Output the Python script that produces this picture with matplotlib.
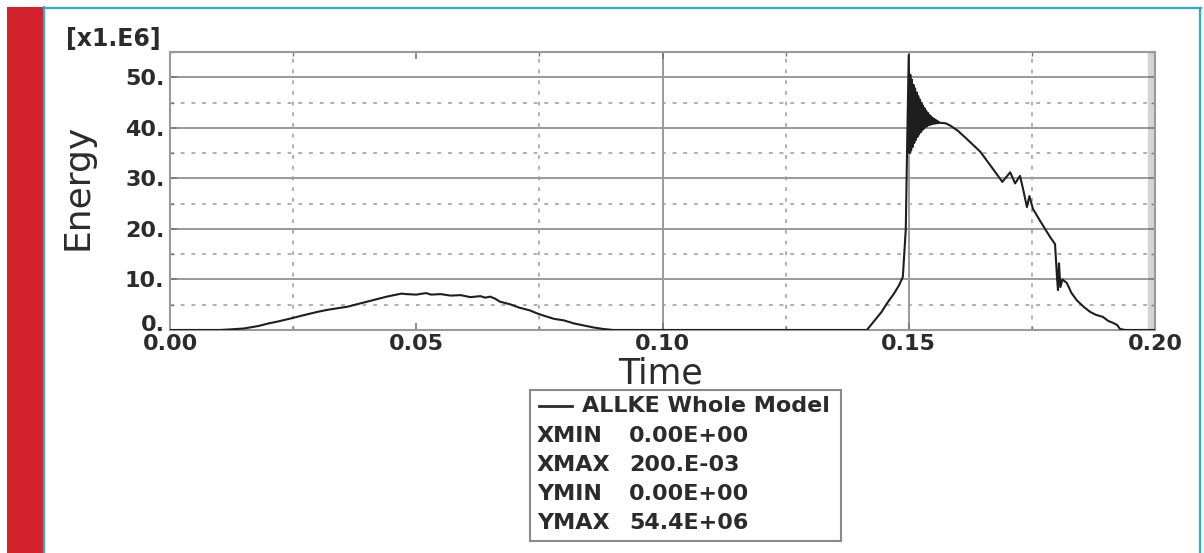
import matplotlib
matplotlib.use("Agg")
import matplotlib.pyplot as plt
from matplotlib.patches import Rectangle
from matplotlib.lines import Line2D
from matplotlib.ticker import MultipleLocator, FixedLocator
from matplotlib.transforms import ScaledTranslation

# ALLKE history (time in s, kinetic energy in units of 1e6)
time_s = [
    0.000, 0.010, 0.012, 0.015, 0.018, 0.020, 0.022, 0.025, 0.027, 0.030,
    0.032, 0.034, 0.036, 0.038, 0.040, 0.042, 0.044, 0.046, 0.047, 0.048,
    0.050, 0.052, 0.053, 0.055, 0.057, 0.059, 0.061, 0.063, 0.064, 0.065,
    0.066, 0.067, 0.069, 0.071, 0.073, 0.0745, 0.076, 0.078, 0.080, 0.082,
    0.084, 0.086, 0.088, 0.090, 0.1415, 0.1430, 0.1445, 0.1456, 0.1470,
    0.1480, 0.1488, 0.1494, 0.1497,
    0.15000, 0.15016, 0.15032, 0.15048, 0.15064, 0.15080, 0.15096, 0.15112,
    0.15128, 0.15144, 0.15160, 0.15176, 0.15192, 0.15208, 0.15224, 0.15240,
    0.15256, 0.15272, 0.15288, 0.15304, 0.15320, 0.15336, 0.15352, 0.15368,
    0.15384, 0.15400, 0.15416, 0.15432, 0.15448, 0.15464, 0.15480, 0.15496,
    0.15512, 0.15528, 0.15544, 0.15560, 0.15576, 0.15592, 0.15608, 0.15624,
    0.1575, 0.1585, 0.1600, 0.1620, 0.1645, 0.1670, 0.1690, 0.1706,
    0.1716, 0.1726, 0.1733, 0.1740, 0.1745, 0.1752, 0.1766, 0.1778, 0.1787,
    0.1797, 0.1801, 0.1803, 0.1805, 0.1808, 0.1812, 0.1821, 0.1830, 0.1841,
    0.1855, 0.1868, 0.1880, 0.1894, 0.1905, 0.1915, 0.1923, 0.1929, 0.1940,
    0.2000,
]
energy_e6 = [
    0.0, 0.0, 0.1, 0.3, 0.8, 1.3, 1.7, 2.4, 2.9, 3.6,
    4.0, 4.3, 4.6, 5.1, 5.6, 6.1, 6.6, 7.0, 7.2, 7.1,
    7.0, 7.3, 7.0, 7.1, 6.8, 6.9, 6.5, 6.7, 6.4, 6.6,
    6.2, 5.6, 5.1, 4.4, 3.9, 3.3, 2.8, 2.2, 1.9, 1.3,
    0.9, 0.5, 0.2, 0.0, 0.0, 1.8, 3.6, 5.3, 7.2,
    8.8, 10.5, 20.0, 38.0,
    54.4, 35.0, 50.5, 35.5, 49.5, 36.2, 48.5, 37.0,
    47.8, 37.6, 47.0, 38.2, 46.3, 38.7, 45.6, 39.1,
    45.0, 39.5, 44.4, 39.8, 43.9, 40.1, 43.4, 40.3,
    43.0, 40.5, 42.6, 40.6, 42.3, 40.7, 42.0, 40.8,
    41.8, 40.8, 41.6, 40.9, 41.4, 40.9, 41.2, 41.0,
    40.9, 40.4, 39.4, 37.6, 35.3, 32.0, 29.3, 31.2,
    29.0, 30.5, 27.5, 24.3, 26.5, 24.0, 21.7, 19.8, 18.4,
    17.0, 10.5, 7.9, 13.2, 8.5, 10.0, 9.3, 7.4, 5.9,
    4.6, 3.6, 3.0, 2.6, 1.8, 1.4, 1.0, 0.2, 0.0,
    0.0,
]

x_ticks = [0.00, 0.05, 0.10, 0.15, 0.20]
x_tick_labels = ["0.00", "0.05", "0.10", "0.15", "0.20"]
y_ticks = [0, 10, 20, 30, 40, 50]
y_tick_labels = ["0.", "10.", "20.", "30.", "40.", "50."]
summary_rows = [("XMIN", "0.00E+00"), ("XMAX", "200.E-03"),
                ("YMIN", "0.00E+00"), ("YMAX", "54.4E+06")]

W, H = 1204, 553
fig = plt.figure(figsize=(W / 100, H / 100), dpi=100)
fig.patch.set_facecolor("white")


def fx(px):
    return px / W


def fy(py):
    return 1 - py / H


# page frame: red side bar and blue border
fig.add_artist(Rectangle((fx(7), 0), fx(43) - fx(7), fy(7), transform=fig.transFigure,
                         facecolor="#d3222b", edgecolor="none", zorder=0))
blue = "#2aa8e0"
fig.add_artist(Line2D([fx(44), fx(44)], [0, fy(7)], transform=fig.transFigure, color=blue, lw=1.6))
fig.add_artist(Line2D([fx(44), fx(1201)], [fy(8), fy(8)], transform=fig.transFigure, color=blue, lw=1.6))
fig.add_artist(Line2D([fx(1200), fx(1200)], [0, fy(8)], transform=fig.transFigure, color=blue, lw=1.6))

ax_left, ax_right, ax_top, ax_bottom = 170, 1155, 52, 330
ax = fig.add_axes([fx(ax_left), fy(ax_bottom), fx(ax_right) - fx(ax_left),
                   (ax_bottom - ax_top) / H])
ax.set_xlim(0, 0.2)
ax.set_ylim(0, 55)

grid_col = "#9a9a9a"
dots = (0, (2.5, 4.5))
for v in [10, 20, 30, 40, 50]:
    ax.axhline(v, color=grid_col, lw=1.4, zorder=1)
for v in [5, 15, 25, 35, 45]:
    ax.axhline(v, color=grid_col, lw=1.1, ls=dots, zorder=1)
for v in [0.10, 0.15]:
    ax.axvline(v, color=grid_col, lw=1.4, zorder=1)
for v in [0.025, 0.075, 0.125, 0.175]:
    ax.axvline(v, color=grid_col, lw=1.1, ls=dots, zorder=1)

# light strip along the right border
ax.axvspan(0.1985, 0.2, color="#d4d4d4", zorder=1)

ax.plot(time_s, energy_e6, color="#1e1e1e", lw=1.5, zorder=3)

for side in ["left", "right", "top", "bottom"]:
    ax.spines[side].set_color(grid_col)
    ax.spines[side].set_linewidth(1.5)

bold = dict(family="DejaVu Sans", weight="bold", size=16, color="#2b2b2b")
ax.xaxis.set_major_locator(FixedLocator(x_ticks))
ax.set_xticklabels(x_tick_labels, fontdict=bold)
ax.yaxis.set_major_locator(FixedLocator(y_ticks))
ax.set_yticklabels(y_tick_labels, fontdict=bold)
ax.yaxis.set_minor_locator(MultipleLocator(5))
ax.xaxis.set_minor_locator(MultipleLocator(0.025))
ax.tick_params(axis="both", which="both", direction="in", color="#777777",
               top=True, right=True)
ax.tick_params(axis="both", which="major", length=5, width=1.2)
ax.tick_params(axis="both", which="minor", length=3, width=1.0)
ax.tick_params(axis="x", which="major", pad=3)
ax.tick_params(axis="y", which="major", pad=4)

# lift the "0." label so it clears the "0.00" below it
zero_label = ax.get_yticklabels()[0]
zero_label.set_transform(zero_label.get_transform()
                         + ScaledTranslation(0, 7 / 100, fig.dpi_scale_trans))

fig.text(fx(113), fy(39), "[x1.E6]", ha="center", va="center",
         **{**bold, "size": 17})
fig.text(fx(78), fy(187), "Energy", rotation=90, ha="center", va="center",
         family="DejaVu Sans", size=26, color="#2b2b2b")
fig.text(fx(661), fy(374), "Time", ha="center", va="center",
         family="DejaVu Sans", size=25, color="#2b2b2b")

# summary box under the axes
fig.add_artist(Rectangle((fx(530), fy(541)), fx(841) - fx(530), (541 - 390) / H,
                         transform=fig.transFigure, facecolor="white",
                         edgecolor="#8a8a8a", lw=1.5))
fig.add_artist(Line2D([fx(539), fx(572)], [fy(406), fy(406)], transform=fig.transFigure,
                      color="#2b2b2b", lw=2))
fig.text(fx(582), fy(406), "ALLKE Whole Model", ha="left", va="center", **bold)
for i, (key, val) in enumerate(summary_rows):
    yy = 436 + i * 29
    fig.text(fx(537), fy(yy), key, ha="left", va="center", **bold)
    fig.text(fx(629), fy(yy), val, ha="left", va="center", **bold)

fig.savefig("out.png", dpi=100, facecolor="white")
